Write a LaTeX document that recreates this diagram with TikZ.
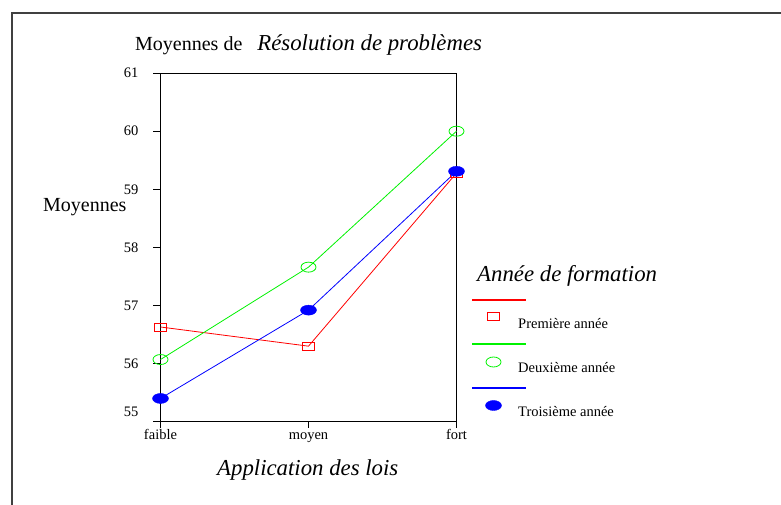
\documentclass[tikz,border=0pt]{standalone}
\usepackage{fontspec}
\setmainfont{Liberation Serif}
\usetikzlibrary{shapes.geometric}
\definecolor{serieun}{rgb}{1,0,0}
\definecolor{seriedeux}{rgb}{0,0.95,0}
\definecolor{serietrois}{rgb}{0,0,1}
\newcommand{\petit}{\fontsize{14.5}{17}\selectfont}
\newcommand{\grand}{\fontsize{20}{24}\selectfont}
\newcommand{\grandit}{\fontsize{22.8}{27}\selectfont\itshape}

\begin{document}
\begin{tikzpicture}[x=1pt, y=1pt,
  sqred/.style={draw=serieun, line width=0.8pt, rectangle, minimum width=12pt, minimum height=8pt, inner sep=0pt},
  ovgreen/.style={draw=seriedeux, line width=0.8pt, ellipse, minimum width=15pt, minimum height=10pt, inner sep=0pt},
  ovblue/.style={draw=serietrois, fill=serietrois, ellipse, minimum width=16pt, minimum height=10pt, inner sep=0pt},
  lineun/.style={draw=serieun, line width=0.8pt},
  linedeux/.style={draw=seriedeux, line width=0.8pt},
  linetrois/.style={draw=serietrois, line width=0.8pt},
  lab/.style={font=\petit, inner sep=0pt}]
\useasboundingbox (0,0) rectangle (781,505);
\draw[line width=1.5pt, black!75] (12,0) -- (12,492) -- (781,492);

\node[anchor=base west, inner sep=0pt] (titre) at (135,454) {\grand Moyennes de\hspace{15pt}{\grandit Résolution de problèmes}};
\node[anchor=base west, inner sep=0pt] (xtitre) at (217,29) {\grandit Application des lois};
\node[anchor=base west, inner sep=0pt] (ytitre) at (43,293.5) {\grand Moyennes};

\begin{scope}[shift={(160.5,83.3)}, x=148pt, y=58.1pt]
\draw[line width=0.9pt] (0,0) rectangle (2,6);

\draw (0,0) -- ++(-8pt,0);
\draw (0,1) -- ++(-8pt,0);
\draw (0,2) -- ++(-8pt,0);
\draw (0,3) -- ++(-8pt,0);
\draw (0,4) -- ++(-8pt,0);
\draw (0,5) -- ++(-8pt,0);
\draw (0,6) -- ++(-8pt,0);
\node[lab, anchor=east] (y55) at ([xshift=-22pt, yshift=10pt]0,0) {55};
\node[lab, anchor=east] (y56) at ([xshift=-22pt]0,1) {56};
\node[lab, anchor=east] (y57) at ([xshift=-22pt]0,2) {57};
\node[lab, anchor=east] (y58) at ([xshift=-22pt]0,3) {58};
\node[lab, anchor=east] (y59) at ([xshift=-22pt]0,4) {59};
\node[lab, anchor=east] (y60) at ([xshift=-22pt]0,5) {60};
\node[lab, anchor=east] (y61) at ([xshift=-22pt]0,6) {61};

\draw (0,0) -- ++(0,-6pt);
\draw (1,0) -- ++(0,-6pt);
\draw (2,0) -- ++(0,-6pt);
\node[lab, anchor=base] (xfaible) at ([yshift=-18pt]0,0) {faible};
\node[lab, anchor=base] (xmoyen) at ([yshift=-18pt]1,0) {moyen};
\node[lab, anchor=base] (xfort) at ([yshift=-18pt]2,0) {fort};

\coordinate (r1) at (0,1.63);
\coordinate (r2) at (1,1.30);
\coordinate (r3) at (2,4.28);
\coordinate (g1) at (0,1.07);
\coordinate (g2) at (1,2.66);
\coordinate (g3) at (2,5.00);
\coordinate (b1) at (0,0.40);
\coordinate (b2) at (1,1.92);
\coordinate (b3) at (2,4.31);

\draw[lineun] (r1) -- (r2) -- (r3);
\draw[linedeux] (g1) -- (g2) -- (g3);
\draw[linetrois] (b1) -- (b2) -- (b3);

\node[sqred] (mr1) at (r1) {};
\node[sqred] (mr2) at (r2) {};
\node[sqred] (mr3) at (r3) {};
\node[ovgreen] (mg1) at (g1) {};
\node[ovgreen] (mg2) at (g2) {};
\node[ovgreen] (mg3) at (g3) {};
\node[ovblue] (mb1) at (b1) {};
\node[ovblue] (mb2) at (b2) {};
\node[ovblue] (mb3) at (b3) {};
\end{scope}

\node[anchor=base west, inner sep=0pt] (legende) at (477,223) {\grandit Année de formation};

\coordinate (lr0) at (472,205);
\coordinate (lr1) at (526,205);
\draw[lineun, line width=1.2pt] (lr0) -- (lr1);
\node[sqred] (lrm) at (493.3,188.3) {};
\node[lab, anchor=base west] (lrt) at (518,176.7) {Première année};

\coordinate (lg0) at (472,161);
\coordinate (lg1) at (526,161);
\draw[linedeux, line width=1.2pt] (lg0) -- (lg1);
\node[ovgreen] (lgm) at (493.5,143) {};
\node[lab, anchor=base west] (lgt) at (518,132.7) {Deuxième année};

\coordinate (lb0) at (472,117);
\coordinate (lb1) at (526,117);
\draw[linetrois, line width=1.2pt] (lb0) -- (lb1);
\node[ovblue] (lbm) at (493.5,99.5) {};
\node[lab, anchor=base west] (lbt) at (518,88.3) {Troisième année};
\end{tikzpicture}
\end{document}
